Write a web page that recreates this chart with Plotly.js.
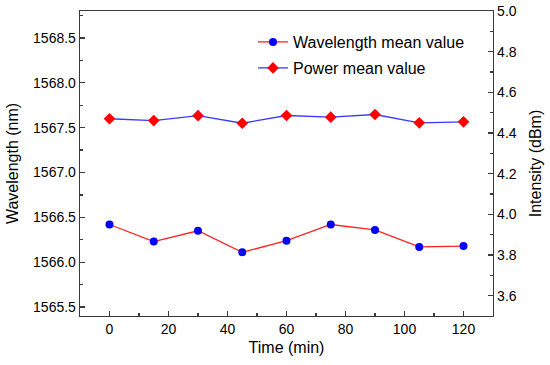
<!DOCTYPE html>
<html>
<head>
<meta charset="utf-8">
<script src="https://cdn.plot.ly/plotly-3.0.1.min.js"></script>
<style>html,body{margin:0;padding:0;background:#fff}#chart{width:550px;height:365px}</style>
</head>
<body>
<div id="chart"></div>
<script>
const timeMin = [0, 15, 30, 45, 60, 75, 90, 105, 120];
const wavelengthMean = [1566.42, 1566.23, 1566.35, 1566.11, 1566.24, 1566.42, 1566.36, 1566.17, 1566.18];
const powerMean = [4.470, 4.461, 4.485, 4.448, 4.486, 4.478, 4.491, 4.450, 4.455];
const seriesNames = ["Wavelength mean value", "Power mean value"];

const FONT = "Arial, 'Liberation Sans', sans-serif";
const AXC = "#3a3a3a";

const traces = [
  {
    x: timeMin, y: wavelengthMean, name: seriesNames[0], type: "scatter", mode: "lines+markers",
    line: {color: "#ff2020", width: 1.3},
    marker: {symbol: "circle", size: 8, color: "#0000ff"},
    yaxis: "y", legend: "legend"
  },
  {
    x: timeMin, y: powerMean, name: seriesNames[1], type: "scatter", mode: "lines+markers",
    line: {color: "#3a3aff", width: 1.3},
    marker: {symbol: "diamond", size: 9, color: "#ff0000"},
    yaxis: "y2", legend: "legend2"
  }
];

const plotW = 550 - 80 - 57;
const plotH = 365 - 11 - 49;
const legX = (80 + 173 - 80) / plotW;

const layout = {
  width: 550, height: 365,
  margin: {l: 80, r: 57, t: 11, b: 49},
  paper_bgcolor: "#fff", plot_bgcolor: "#fff",
  font: {family: FONT, size: 14, color: "#000"},
  showlegend: true,
  legend: {x: legX, xanchor: "left", y: 1 - (43 - 11 - 18) / plotH, yanchor: "top", bgcolor: "rgba(0,0,0,0)", font: {size: 16}},
  legend2: {x: legX, xanchor: "left", y: 1 - (69 - 11 - 18) / plotH, yanchor: "top", bgcolor: "rgba(0,0,0,0)", font: {size: 16}},
  xaxis: {
    range: [-10, 130], tick0: 0, dtick: 20, ticks: "inside", ticklen: 5, tickwidth: 1.2, tickcolor: AXC,
    minor: {dtick: 10, ticks: "inside", ticklen: 3, tickcolor: AXC},
    showline: true, linecolor: AXC, linewidth: 1.3, mirror: true,
    showgrid: false, zeroline: false,
    tickfont: {size: 14},
    title: {text: "Time (min)", font: {size: 16}, standoff: 5}
  },
  yaxis: {
    range: [1565.4, 1568.8], tick0: 1565.5, dtick: 0.5, tickformat: ".1f",
    ticks: "inside", ticklen: 5, tickwidth: 1.2, tickcolor: AXC,
    minor: {dtick: 0.25, ticks: "inside", ticklen: 3, tickcolor: AXC},
    showline: true, linecolor: AXC, linewidth: 1.3,
    showgrid: false, zeroline: false,
    tickfont: {size: 14},
    title: {text: "Wavelength (nm)", font: {size: 16}, standoff: 10}
  },
  yaxis2: {
    overlaying: "y", side: "right",
    range: [3.5, 5.0], tick0: 3.6, dtick: 0.2, tickformat: ".1f",
    ticks: "inside", ticklen: 5, tickwidth: 1.2, tickcolor: AXC,
    minor: {dtick: 0.1, ticks: "inside", ticklen: 3, tickcolor: AXC},
    showline: true, linecolor: AXC, linewidth: 1.3,
    showgrid: false, zeroline: false,
    tickfont: {size: 14},
    title: {text: "Intensity (dBm)", font: {size: 16}, standoff: 14}
  }
};

Plotly.newPlot("chart", traces, layout, {displayModeBar: false, staticPlot: true});
</script>
</body>
</html>
